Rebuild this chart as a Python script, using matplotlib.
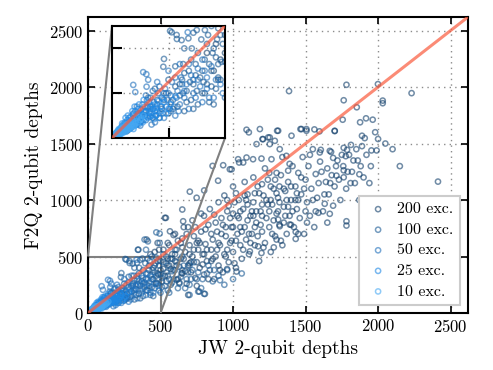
import matplotlib
matplotlib.use("Agg")
import matplotlib.pyplot as plt
import numpy as np
from mpl_toolkits.axes_grid1.inset_locator import mark_inset

plt.rcParams['font.family'] = ['cmr10', 'DejaVu Serif']
plt.rcParams['mathtext.fontset'] = 'cm'
plt.rcParams['axes.unicode_minus'] = False
plt.rcParams['axes.formatter.use_mathtext'] = True

# ---------------- data ----------------
labels = ["200 exc.", "100 exc.", "50 exc.", "25 exc.", "10 exc."]

pts200 = [
    (1386,1964),(1782,2020),(1999,2026),(2231,1946),(1763,1883),(2032,1880),(2032,1857),(1853,1821),
    (1963,1711),(1917,1723),(1876,1688),(1756,1711),(1701,1610),(1596,1608),(1561,1625),(1506,1628),
    (1465,1628),(1304,1613),(1889,1569),(1908,1548),(1889,1477),(1954,1439),(1990,1439),(1813,1488),
    (1763,1462),(1786,1444),(1777,1388),(1676,1426),(1690,1373),(1605,1444),(1763,1263),(1763,1201),
    (1713,1216),(1871,1228),(2413,1163),(1782,812),(1782,774),(1667,878),(1632,967),(1589,887),
    (1281,581),(1432,718),(1432,656),(1391,783),(1322,768),(1311,827),
    (1109,1599),(1162,1495),(1203,1539),(1242,1554),(1288,1524),(1253,1495),(702,1074),(801,1085),
    (859,1302),(897,1171),(990,1272),(1042,1332),(1093,1376),(537,842),(650,916),(749,1020),
    (656,812),(565,723),(691,160),(767,190),(806,169),(959,389),(1024,367),(1116,545),(1196,531),
    (1173,590),(1300,650),(611,294),(645,353),(404,650),(347,560),(530,842),
    (1093,1622),(1185,1628),(1311,1613),(932,1308),(978,1272),(1035,1361),(1070,1332),(1138,1361),
    (1196,1367),(1265,1361),(1207,1539),(1253,1554),(1403,1569),(1472,1628),(1506,1613),(1322,1450),
    (1368,1391),(1598,1421),(1667,1435),(1701,1613),
    (420,380),(450,300),(460,420),(480,350),(500,460),(510,280),(520,390),(540,500),(550,330),
    (560,420),(570,250),(580,520),(590,380),(600,460),(610,560),(620,300),(630,410),(640,620),
    (650,350),(660,480),(670,540),(680,260),(690,420),(700,600),(710,360),(720,500),(730,680),
    (740,310),(750,450),(760,560),(770,400),(780,720),(790,520),(800,340),(810,610),(820,460),
    (830,780),(840,380),(850,560),(860,650),(870,300),(880,500),(890,720),(900,420),
    (910,600),(920,840),(930,360),(940,520),(950,680),(960,900),(970,450),(980,620),(990,760),
    (1000,540),(1010,980),(1020,400),(1030,700),(1040,840),(1050,600),(1060,480),(1070,920),
    (1080,760),(1090,650),(1100,1050),(1110,520),(1120,860),(1130,700),(1140,980),(1150,600),
    (1160,800),(1170,1120),(1180,460),(1190,900),(1200,720),(1210,1040),(1220,620),(1230,840),
    (1240,1180),(1250,760),(1260,540),(1270,960),(1280,1100),(1290,680),(1300,880),(1310,1020),
    (1320,780),(1330,1220),(1340,600),(1350,940),(1360,1080),(1370,700),(1380,1160),(1390,860),
    (1400,1000),(1410,1300),(1420,760),(1430,1120),(1440,920),(1450,1240),(1460,840),(1470,1050),
    (1480,1380),(1490,700),(1500,1180),(1510,980),(1520,1300),(1530,860),(1540,1100),(1550,1450),
    (1560,760),(1570,1230),(1580,1020),(1600,1340),(1620,900),(1640,1160),(1650,1280),(1660,1050),
    (1680,1220),(1700,1120),(1720,1350),(1740,1000),(1760,1300),(1780,1100),(1800,1400),(1820,1250),
    (1840,1150),(1860,1350),(1880,1300),(1900,1200),(1950,1300),(1980,1600),(2000,1540),
    (560,600),(600,700),(640,480),(660,760),(700,520),(720,820),(760,640),(780,880),(820,560),
    (840,920),(860,480),(880,800),(900,980),(920,700),(940,1040),(960,560),(980,840),(1000,1120),
    (1020,640),(1040,1000),(1060,720),(1080,1160),(1100,820),(1120,620),(1140,1200),(1160,900),
    (1180,1060),(1200,860),(1220,1280),(1240,960),(1260,1120),(1280,820),(1300,1240),(1320,980),
    (1340,1380),(1360,860),(1380,1260),(1400,780),(460,540),(480,620),(500,380),(520,560),
    (540,440),(580,480),(620,640),(680,700),(740,760),(800,860),
    (430,520),(470,260),(490,560),(530,330),(550,620),(570,390),(590,690),(610,420),(630,270),
    (650,580),(670,370),(690,760),(710,450),(730,560),(750,240),(770,620),(790,430),(810,740),
    (830,300),(850,460),(870,870),(890,560),(910,380),(930,780),(950,500),(970,950),(990,640),
    (1010,440),(1030,860),(1050,760),(1070,560),(1090,1000),(1110,700),(1130,900),(1150,1060),
    (1170,680),(1190,780),(1210,580),(1230,1000),(1250,1240),(1270,700),(1290,1180),(1310,900),
    (1330,640),(1350,1100),(1370,1000),(1390,1320),(1410,900),(1430,1000),(1450,700),(1470,1200),
    (1490,1100),(1510,800),(1530,1400),(1550,1000),(1570,900),(1590,1150),(1610,1250),(1630,1050),
    (1650,800),(1670,1150),(1690,950),(1710,1300),(1730,1180),(1750,1400),(1790,1250),(1810,1150),
    (1830,1350),(1850,1450),(1870,1000),(1920,1400),(1940,1150),(2050,1500),(2100,1450),(2150,1300),
    (1000,760),(1050,900),(1100,960),(1150,760),(1200,960),(1250,900),(1300,1060),(1350,800),
    (1400,1120),(1450,1000),(900,620),(950,760),(1000,880),(850,700),(800,520),(750,620),
    (700,440),(650,660),(600,520),(550,480),(960,1000),(1020,1060),(1080,1040),(1140,860),
    (1200,1140),(1260,1000),(1320,1120),(1380,940),(1440,1060),(1500,900),
]

pts100 = [
    (150,120),(180,90),(200,170),(220,130),(240,200),(250,110),(260,160),(280,230),(290,140),
    (300,190),(310,260),(320,120),(330,210),(340,300),(350,170),(360,240),(370,330),(380,150),
    (390,270),(400,200),(410,350),(420,240),(430,160),(440,300),(450,400),(460,220),(470,330),
    (480,260),(490,420),(500,180),(510,310),(520,450),(530,240),(540,360),(550,200),(560,300),
    (570,480),(580,270),(600,380),(620,220),(640,320),(660,420),(680,300),(700,250),(720,380),
    (750,300),(780,220),(820,350),(860,280),(900,330),(940,250),(700,160),(760,190),(800,170),
    (227,318),(257,478),(286,460),(308,437),(338,445),(353,400),(375,482),(411,482),(470,490),
    (344,560),(390,650),(413,634),(471,714),(494,703),(494,620),(264,472),(287,442),(230,353),
    (160,180),(170,140),(190,220),(210,90),(230,170),(250,260),(270,130),(280,320),(300,240),
    (320,290),(330,160),(350,350),(360,130),(370,280),(380,380),(400,300),(410,200),(420,420),
    (430,330),(440,230),(450,150),(460,360),(470,270),(480,460),(500,340),(510,230),(520,520),
    (540,280),(550,420),(560,180),(580,370),(590,300),(610,450),(630,260),(650,380),(670,220),
    (690,360),(710,300),(730,450),(760,360),(790,300),(830,420),(870,380),(910,290),(960,380),
    (1000,300),(1060,350),(440,500),(400,560),(360,470),(320,400),(600,560),(650,500),(700,420),
    (395,440),(425,460),(445,380),(465,440),(485,340),(405,250),(375,210),(345,250),(315,330),
]

pts50 = [
    (40,30),(60,50),(70,35),(80,70),(90,55),(100,90),(110,60),(120,100),(130,75),(140,120),
    (150,80),(160,140),(170,95),(180,130),(190,70),(200,150),(210,110),(220,180),(230,90),
    (240,140),(250,200),(260,120),(270,170),(280,100),(290,210),(300,150),(310,240),(320,180),
    (340,130),(360,200),(380,260),(400,160),(420,220),(450,180),(480,240),(94,237),(153,229),
    (103,205),(138,294),(152,285),(335,472),
    (50,60),(65,30),(75,90),(85,45),(95,110),(105,70),(115,130),(125,55),(135,150),(145,100),
    (155,170),(165,110),(175,60),(185,160),(195,100),(205,200),(215,140),(225,110),(235,220),
    (245,170),(255,130),(265,250),(275,140),(285,180),(295,120),(305,270),(315,200),(330,240),
    (350,280),(370,180),(390,230),(410,300),(430,180),(460,260),(490,200),(200,250),(250,300),
    (180,210),(160,260),(300,330),
    (110,140),(130,110),(150,190),(170,180),(190,120),(210,230),(230,200),(260,190),(280,270),
    (320,210),(340,330),(360,260),(380,310),(400,350),(420,270),(440,320),
]

pts25 = [
    (15,12),(20,25),(25,15),(30,30),(35,20),(40,45),(45,30),(50,40),(55,60),(60,35),(65,55),
    (70,45),(75,70),(80,50),(85,80),(90,60),(95,40),(100,75),(105,95),(110,65),(115,85),
    (120,110),(125,70),(130,95),(140,80),(150,115),(160,90),(170,130),(180,100),(190,150),
    (200,120),(210,90),(220,140),(240,110),(60,90),(90,120),(120,150),
    (18,20),(22,10),(28,35),(33,26),(38,18),(43,52),(48,38),(53,28),(58,70),(63,44),(68,80),
    (73,58),(78,40),(83,95),(88,70),(93,105),(98,60),(103,120),(108,80),(113,100),(118,60),
    (128,125),(135,105),(145,140),(155,95),(165,160),(175,115),(185,130),(195,100),(205,165),
    (215,120),(230,160),(250,130),(70,100),(100,140),(140,170),(45,65),
    (25,28),(35,40),(50,50),(62,66),(76,60),(86,52),(96,85),(106,58),(116,112),(126,90),
    (136,70),(146,120),(156,135),(166,100),(176,145),(186,85),(196,135),(225,175),(260,150),
    (280,185),
]

pts10 = [
    (5,4),(8,8),(10,6),(12,12),(15,9),(18,16),(20,12),(22,20),(25,18),(28,14),(30,26),(32,22),
    (35,18),(38,32),(40,25),(42,36),(45,30),(48,22),(50,40),(55,35),(58,48),(60,28),(65,45),
    (70,38),(75,55),(80,42),(85,60),(90,50),(95,70),(100,55),(30,40),(50,60),
    (6,10),(10,15),(14,6),(16,20),(20,24),(24,12),(26,30),(30,16),(34,28),(36,40),(40,20),
    (44,44),(46,34),(52,30),(54,52),(56,42),(62,38),(64,58),(68,50),(72,64),(78,48),(82,70),
    (88,58),(92,80),(98,62),(105,75),(110,90),(115,70),(120,95),(125,80),
    (12,4),(18,10),(24,26),(28,20),(36,30),(42,28),(48,46),(60,50),(66,36),(74,44),(84,50),
    (96,52),(104,66),(130,88),(140,100),
]

series = [pts200, pts100, pts50, pts25, pts10]
colors = ["#123f6b", "#1a5a95", "#1f6fbb", "#1e88e5", "#45a8f3"]

main_ticks = [0, 500, 1000, 1500, 2000, 2500]
lim = 2620
inset_lim = 500

# ---------------- figure ----------------
fig = plt.figure(figsize=(4.93, 3.70), dpi=100)
ax = fig.add_axes([88/493, 57/370, 380/493, 296/370])


def draw(a, show_label):
    for pts, c, lab in zip(series, colors, labels):
        arr = np.array(pts, dtype=float)
        a.scatter(arr[:, 0], arr[:, 1], s=14, facecolors="none", edgecolors=c,
                  linewidths=1.1, alpha=0.6, label=lab if show_label else None, zorder=2)
    a.plot([0, lim], [0, lim], color="#fa5a3c", lw=2.2, alpha=0.7, zorder=3)
    a.grid(True, linestyle=(0, (1, 3)), color="0.55", lw=1.0, zorder=0)
    a.set_axisbelow(True)
    for s in a.spines.values():
        s.set_linewidth(1.5)


draw(ax, True)
ax.set_xlim(0, lim)
ax.set_ylim(0, lim)
ax.set_xticks(main_ticks)
ax.set_yticks(main_ticks)
ax.tick_params(direction="in", top=True, right=True, length=5, width=1.2, labelsize=12)
ax.set_xlabel("JW 2-qubit depths", fontsize=14)
ax.set_ylabel("F2Q 2-qubit depths", fontsize=14)

leg = ax.legend(loc="lower right", fontsize=11.5, frameon=True, fancybox=False,
                framealpha=1, edgecolor="0.8", borderaxespad=0.5, handletextpad=0.4,
                handlelength=1.6, labelspacing=0.4, scatterpoints=1)
leg.get_frame().set_linewidth(1.5)

axins = fig.add_axes([112/493, (370-138)/370, 113/493, 112/370])
draw(axins, False)
axins.set_xlim(0, inset_lim)
axins.set_ylim(0, inset_lim)
axins.set_xticks([250])
axins.set_yticks([200, 400])
axins.set_xticklabels([])
axins.set_yticklabels([])
axins.tick_params(direction="in", length=7, width=1.5)

mark_inset(ax, axins, loc1=2, loc2=4, fc="none", ec="0.5", lw=1.5, zorder=1)

fig.savefig("out.png", dpi=100)
